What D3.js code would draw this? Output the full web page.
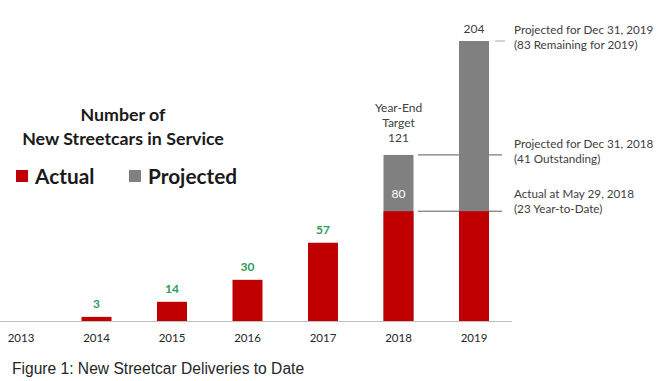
<!doctype html>
<html lang="en">
<head>
  <meta charset="utf-8">
  <title>New Streetcar Deliveries to Date</title>
  <style>
    body { margin: 0; background: #fff; }
    text { font-family: Lato, "Open Sans", sans-serif; }
  </style>
</head>
<body>
<div id="mychart"></div>
<script src="https://d3js.org/d3.v7.min.js"></script>
<script>
var years = ["2013", "2014", "2015", "2016", "2017", "2018", "2019"];
var actual = [0, 3, 14, 30, 57, 80, 80];
var projected = [0, 0, 0, 0, 0, 121, 204];
var actualLabels = ["", "3", "14", "30", "57", "", ""];

var notes = [
  { value: 204, lines: ["Projected for Dec 31, 2019", "(83 Remaining for 2019)"] },
  { value: 121, lines: ["Projected for Dec 31, 2018", "(41 Outstanding)"] },
  { value: 80, lines: ["Actual at May 29, 2018", "(23 Year-to-Date)"] }
];

var width = 660;
var height = 381;
var red = "#c00000", grey = "#808080", green = "#2e9b5b", dark = "#404040";

var svg = d3.select("#mychart").append("svg")
  .attr("width", width)
  .attr("height", height);

var x = d3.scalePoint().domain(years).range([21, 474]);
var y = d3.scaleLinear().domain([0, 204]).range([321, 41]);
var bw = 30;

// annotation leader lines (drawn first so the bars sit on top)
svg.append("line")
  .attr("x1", 495).attr("x2", 505)
  .attr("y1", y(204)).attr("y2", y(204))
  .attr("stroke", "#a6a6a6");
svg.selectAll(".lead").data(notes.slice(1)).enter()
  .append("line")
  .attr("x1", 418).attr("x2", 502)
  .attr("y1", function(d) { return y(d.value); })
  .attr("y2", function(d) { return y(d.value); })
  .attr("stroke", "#595959");

// projected (grey) bars
svg.selectAll(".proj").data(years).enter()
  .append("rect")
  .attr("x", function(d) { return x(d) - bw / 2; })
  .attr("width", bw)
  .attr("y", function(d, i) { return y(projected[i]); })
  .attr("height", function(d, i) { return y(0) - y(projected[i]); })
  .attr("fill", grey);

// actual (red) bars
svg.selectAll(".act").data(years).enter()
  .append("rect")
  .attr("x", function(d) { return x(d) - bw / 2; })
  .attr("width", bw)
  .attr("y", function(d, i) { return y(actual[i]); })
  .attr("height", function(d, i) { return y(0) - y(actual[i]); })
  .attr("fill", red);

// baseline
svg.append("line")
  .attr("x1", 0).attr("x2", 512)
  .attr("y1", y(0) + 0.5).attr("y2", y(0) + 0.5)
  .attr("stroke", "#bfbfbf");

// year labels
svg.selectAll(".yr").data(years).enter()
  .append("text")
  .attr("x", function(d) { return x(d); })
  .attr("y", 342)
  .attr("text-anchor", "middle")
  .attr("font-size", 11.5)
  .attr("fill", "#262626")
  .text(function(d) { return d; });

// green value labels
svg.selectAll(".val").data(years).enter()
  .append("text")
  .attr("x", function(d) { return x(d); })
  .attr("y", function(d, i) { return y(actual[i]) - 9; })
  .attr("text-anchor", "middle")
  .attr("font-size", 12)
  .attr("font-weight", "bold")
  .attr("fill", green)
  .text(function(d, i) { return actualLabels[i]; });

// 2018 labels
svg.append("text")
  .attr("x", x("2018")).attr("y", y(80) - 13)
  .attr("text-anchor", "middle")
  .attr("font-size", 12)
  .attr("fill", "#fff")
  .text("80");
svg.append("text")
  .attr("x", x("2018")).attr("y", y(121) - 43)
  .attr("text-anchor", "middle")
  .attr("font-size", 12)
  .attr("fill", dark)
  .selectAll("tspan").data(["Year-End", "Target", "121"]).enter()
  .append("tspan")
  .attr("x", x("2018"))
  .attr("dy", function(d, i) { return i ? 15 : 0; })
  .text(function(d) { return d; });
svg.append("text")
  .attr("x", x("2019")).attr("y", y(204) - 8)
  .attr("text-anchor", "middle")
  .attr("font-size", 12)
  .attr("fill", dark)
  .text("204");

// right side notes
notes.forEach(function(n, k) {
  var base = [34, 148, 198][k];
  svg.append("text")
    .attr("x", 514).attr("y", base)
    .attr("font-size", 11.7)
    .attr("fill", dark)
    .selectAll("tspan").data(n.lines).enter()
    .append("tspan")
    .attr("x", 514)
    .attr("dy", function(d, i) { return i ? 15 : 0; })
    .text(function(d) { return d; });
});

// title and legend
svg.append("text")
  .attr("x", 123).attr("y", 121)
  .attr("text-anchor", "middle")
  .attr("font-size", 17.8)
  .attr("font-weight", "bold")
  .attr("fill", "#1a1a1a")
  .selectAll("tspan").data(["Number of", "New Streetcars in Service"]).enter()
  .append("tspan")
  .attr("x", 123)
  .attr("dy", function(d, i) { return i ? 24 : 0; })
  .text(function(d) { return d; });

var legend = [{ name: "Actual", color: red, x: 16 }, { name: "Projected", color: grey, x: 129 }];
var lg = svg.selectAll(".lg").data(legend).enter().append("g");
lg.append("rect")
  .attr("x", function(d) { return d.x; })
  .attr("y", 170)
  .attr("width", 12).attr("height", 12)
  .attr("fill", function(d) { return d.color; });
lg.append("text")
  .attr("x", function(d) { return d.x + 19; })
  .attr("y", 184)
  .attr("font-size", 20.8)
  .attr("font-weight", "bold")
  .attr("fill", "#1a1a1a")
  .text(function(d) { return d.name; });

// caption
svg.append("text")
  .attr("x", 12).attr("y", 374)
  .style("font-family", "'Liberation Sans', Arial, sans-serif")
  .attr("font-size", 15.6)
  .attr("fill", "#262626")
  .text("Figure 1: New Streetcar Deliveries to Date");
</script>
</body>
</html>
